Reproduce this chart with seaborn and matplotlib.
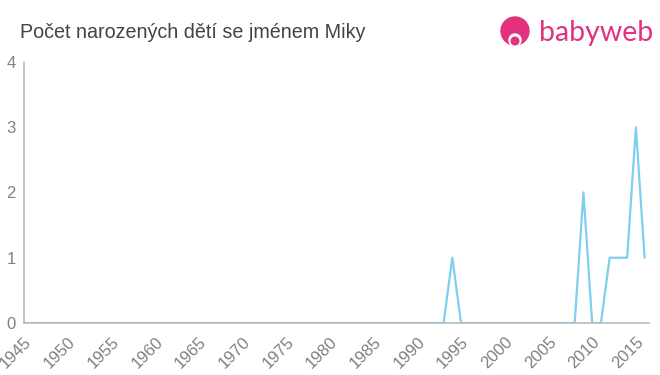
import matplotlib
matplotlib.use("Agg")
import matplotlib.pyplot as plt
import seaborn as sns
import pandas as pd
from matplotlib.patches import Circle

years = list(range(1945, 2017))
nonzero = {1994: 1, 2009: 2, 2012: 1, 2013: 1, 2014: 1, 2015: 3, 2016: 1}
counts = [nonzero.get(y, 0) for y in years]
xticks = list(range(1945, 2020, 5))
yticks = [0, 1, 2, 3, 4]
title = "Počet narozených dětí se jménem Miky"

df = pd.DataFrame({"rok": years, "pocet": counts})

sns.set_style("white")
plt.rcParams['font.family'] = ['Liberation Sans', 'DejaVu Sans']

fig = plt.figure(figsize=(6.6, 3.75), dpi=100)
ax = fig.add_axes([24/660, 1-323/375, (649-24)/660, (323-62)/375])
sns.lineplot(data=df, x="rok", y="pocet", ax=ax, color="#7dcfee", linewidth=1.6)

ax.set_xlim(1945, 2016.5)
ax.set_ylim(0, 4)
ax.set_xticks(xticks)
ax.set_xticklabels([str(x) for x in xticks], rotation=45, ha="right",
                   rotation_mode="anchor", fontsize=12, color="#808080")
ax.set_yticks(yticks)
ax.set_yticklabels([str(y) for y in yticks], fontsize=12, color="#808080")
ax.set_xlabel("")
ax.set_ylabel("")
for s in ["top", "right"]:
    ax.spines[s].set_visible(False)
for s in ["left", "bottom"]:
    ax.spines[s].set_color("#bbbbbb")
    ax.spines[s].set_linewidth(1.2)
ax.tick_params(axis="x", length=5, color="#bbbbbb", width=1.2, pad=3)
ax.tick_params(axis="y", length=4, color="#bbbbbb", width=1.2, pad=2)

fig.text(20/660, 1-32/375, title, fontsize=14.2, color="#444444", va="center", ha="left")

# logo
pink = "#e2317e"
logo_ax = fig.add_axes([0, 0, 1, 1], facecolor="none")
logo_ax.set_xlim(0, 660)
logo_ax.set_ylim(375, 0)
logo_ax.axis("off")
logo_ax.add_patch(Circle((515, 31), 14, color=pink))
logo_ax.add_patch(Circle((515, 40), 6, color="white"))
logo_ax.add_patch(Circle((515, 41), 3.8, color=pink))
logo_ax.text(539, 33, "babyweb", fontsize=20.5, color=pink, va="center", ha="left",
             family=["Lato", "DejaVu Sans"])

fig.savefig("out.png", dpi=100)
